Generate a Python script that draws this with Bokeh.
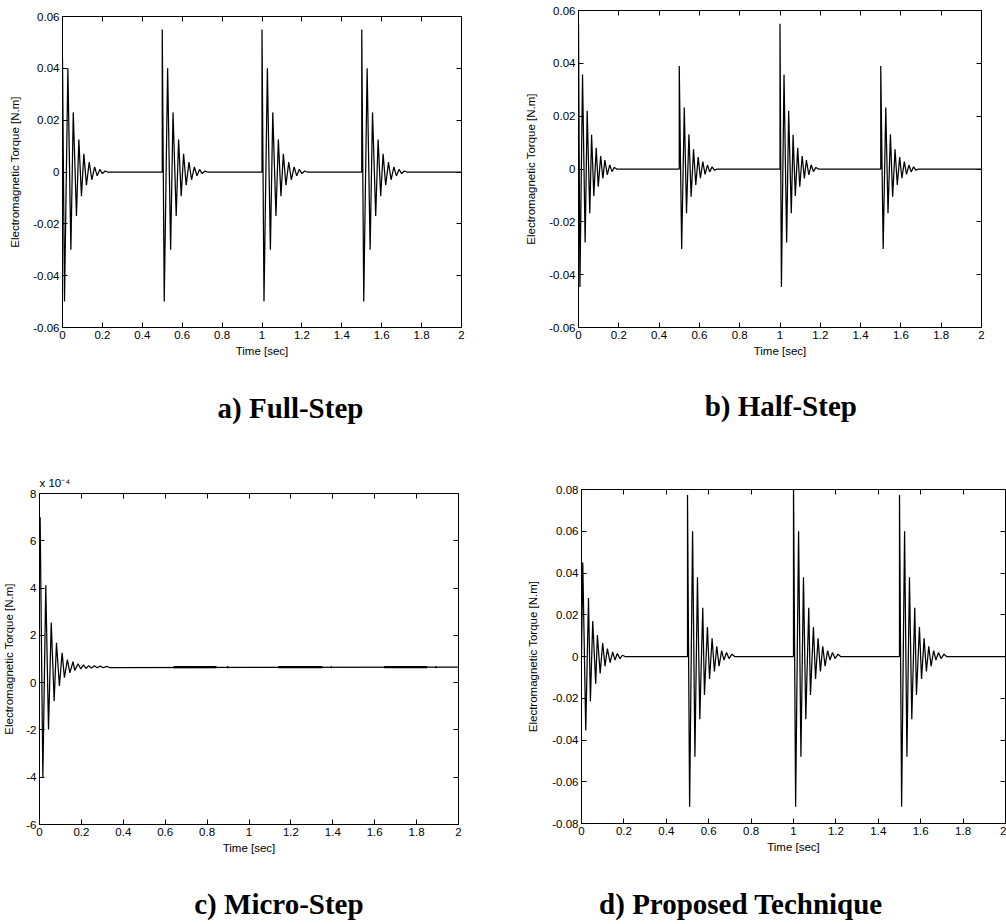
from bokeh.plotting import figure
from bokeh.models import (FixedTicker, CustomJSTickFormatter, LinearAxis, Range1d)
from bokeh.layouts import column, row
from bokeh.embed import file_html
from bokeh.resources import INLINE
from bokeh.core.properties import value

# ---------------- data ----------------
x_ticks = [0, 0.2, 0.4, 0.6, 0.8, 1.0, 1.2, 1.4, 1.6, 1.8, 2.0]
x_tick_labels = ["0", "0.2", "0.4", "0.6", "0.8", "1", "1.2", "1.4", "1.6", "1.8", "2"]
y_ticks_ab = [-0.06, -0.04, -0.02, 0, 0.02, 0.04, 0.06]
y_tick_labels_ab = ["-0.06", "-0.04", "-0.02", "0", "0.02", "0.04", "0.06"]
y_ticks_c = [-6, -4, -2, 0, 2, 4, 6, 8]
y_tick_labels_c = ["-6", "-4", "-2", "0", "2", "4", "6", "8"]
y_ticks_d = [-0.08, -0.06, -0.04, -0.02, 0, 0.02, 0.04, 0.06, 0.08]
y_tick_labels_d = ["-0.08", "-0.06", "-0.04", "-0.02", "0", "0.02", "0.04", "0.06", "0.08"]

captions = ["a) Full-Step", "b) Half-Step", "c) Micro-Step", "d) Proposed Technique"]
c_scale_note = "x 10\u207b\u2074"

# a) Full-Step : four bursts
a_start = [0.0, 0.5, 1.0, 1.5]
a_spike = [0.044, 0.055, 0.055, 0.055]
a_spike_at = [0.0, 0.0, 0.0, 0.0]
a_kind = ["A", "A", "A", "A"]
a_offsets_A = [0.010, 0.027, 0.042, 0.054, 0.070, 0.082, 0.095, 0.107, 0.120,
               0.134, 0.147, 0.161, 0.174, 0.187, 0.200, 0.214]
a_swing_A = [-0.050, 0.040, -0.030, 0.023, -0.017, 0.0125, -0.0093, 0.007, -0.0051,
             0.0038, -0.003, 0.002, -0.0015, 0.001, -0.0006, 0.0004]

# b) Half-Step
b_start = [0.0, 0.5, 1.0, 1.5]
b_spike = [0.055, 0.039, 0.055, 0.039]
b_spike_at = [0.0, 0.0, 0.0, 0.0]
b_kind = ["A", "B", "A", "B"]
b_offsets_A = [0.007, 0.020, 0.033, 0.043, 0.056, 0.065, 0.076, 0.088, 0.098,
               0.110, 0.121, 0.131, 0.143, 0.155, 0.166, 0.178]
b_swing_A = [-0.0447, 0.0358, -0.0278, 0.022, -0.0167, 0.013, -0.0102, 0.008, -0.0067,
             0.0049, -0.0036, 0.0034, -0.0022, 0.0016, -0.001, 0.0006]
b_offsets_B = [0.012, 0.025, 0.036, 0.048, 0.059, 0.071, 0.082, 0.094, 0.105,
               0.117, 0.128, 0.140, 0.151, 0.163, 0.175]
b_swing_B = [-0.0303, 0.0233, -0.0167, 0.0131, -0.0105, 0.0075, -0.006, 0.0045, -0.0035,
             0.0028, -0.002, 0.0015, -0.0011, 0.0008, -0.0005]

# c) Micro-Step (values in units of 1e-4)
c_level = 0.66
c_offsets = [0.0, 0.003, 0.016, 0.030, 0.043, 0.056, 0.070, 0.081, 0.095, 0.108,
             0.119, 0.133, 0.145, 0.160, 0.168, 0.184, 0.197, 0.210, 0.222, 0.235,
             0.248, 0.262, 0.275, 0.290, 0.305, 0.320, 0.335]
c_values = [6.0, 7.0, -4.0, 4.12, -1.98, 2.54, -0.78, 1.69, -0.14, 1.26,
            0.21, 0.97, 0.41, 0.89, 0.52, 0.80, 0.58, 0.75, 0.60, 0.72,
            0.62, 0.71, 0.63, 0.70, 0.63, 0.69, 0.64]
c_ripple_start = [0.64, 1.14, 1.645]
c_ripple_end = [0.845, 1.35, 1.85]
c_blip = [0.895, 1.39, 1.89]

# d) Proposed Technique
d_start = [0.0, 0.5, 1.0, 1.5]
d_spike = [0.045, 0.0774, 0.085, 0.0774]
d_spike_at = [0.006, 0.0, 0.0, 0.0]
d_kind = ["A", "B", "B", "B"]
d_offsets_A = [0.020, 0.033, 0.042, 0.053, 0.067, 0.075, 0.088, 0.100, 0.111,
               0.122, 0.135, 0.147, 0.158, 0.169, 0.182, 0.193]
d_swing_A = [-0.0355, 0.028, -0.0215, 0.017, -0.013, 0.0103, -0.0081, 0.0064, -0.0046,
             0.0038, -0.0029, 0.0022, -0.0017, 0.0014, -0.001, 0.0006]
d_offsets_B = [0.010, 0.024, 0.035, 0.047, 0.058, 0.072, 0.080, 0.094, 0.104,
               0.116, 0.127, 0.138, 0.149, 0.161, 0.172, 0.184, 0.196, 0.210]
d_swing_B = [-0.072, 0.060, -0.048, 0.038, -0.030, 0.0234, -0.0184, 0.0141, -0.0108,
             0.0087, -0.0072, 0.0049, -0.0046, 0.0028, -0.0017, 0.0019, -0.001, 0.0011]

T_END = 2.0


def build_trace(starts, spikes, spike_at, kinds, patterns, level=0.0):
    xs, ys = [], []
    for i, t0 in enumerate(starts):
        offs, sw = patterns[kinds[i]]
        if i > 0 or spike_at[i] > 0:
            xs.append(t0); ys.append(level)
        xs.append(t0 + spike_at[i]); ys.append(level + spikes[i])
        for o, v in zip(offs, sw):
            xs.append(t0 + o); ys.append(level + v)
        xs.append(t0 + offs[-1] + 0.012); ys.append(level)
    xs.append(T_END); ys.append(level)
    return xs, ys


FONT = "Liberation Sans"
TICK_FS = "11.5px"


def tick_formatter(tv, lbl):
    return CustomJSTickFormatter(args=dict(tv=tv, lbl=lbl), code="""
        const i = tv.findIndex(t => Math.abs(t - tick) < 1e-9);
        return i >= 0 ? lbl[i] : '';
    """)


BLANK = CustomJSTickFormatter(code="return '';")


def style_axis(ax):
    ax.major_tick_in = 5
    ax.major_tick_out = 0
    ax.minor_tick_line_color = None
    ax.axis_line_color = "black"
    ax.major_tick_line_color = "black"
    ax.major_label_text_color = "black"
    ax.axis_label_text_color = "black"
    ax.major_label_text_font = FONT
    ax.axis_label_text_font = FONT
    ax.axis_label_text_font_style = "normal"
    ax.axis_label_text_font_size = TICK_FS
    ax.major_label_text_font_size = TICK_FS


def make_panel(width, height, left, right, top, bottom, yr, yticks, ylabels, ystand):
    p = figure(width=width, height=height, x_range=Range1d(0, 2), y_range=Range1d(*yr),
               output_backend="svg", toolbar_location=None,
               min_border_left=left, min_border_right=right,
               min_border_top=top, min_border_bottom=bottom,
               x_axis_label="Time [sec]", y_axis_label="Electromagnetic Torque [N.m]")
    p.grid.visible = False
    p.outline_line_color = "black"
    p.outline_line_width = 1
    p.background_fill_color = "white"
    p.border_fill_color = "white"

    bx = p.below[0]
    ly = p.left[0]
    bx.ticker = FixedTicker(ticks=x_ticks)
    ly.ticker = FixedTicker(ticks=yticks)
    bx.formatter = tick_formatter(x_ticks, x_tick_labels)
    ly.formatter = tick_formatter(yticks, ylabels)
    style_axis(bx)
    style_axis(ly)
    bx.major_label_standoff = 3
    bx.axis_label_standoff = 3
    ly.major_label_standoff = 3
    ly.axis_label_standoff = ystand

    top_ax = LinearAxis(ticker=FixedTicker(ticks=x_ticks), formatter=BLANK)
    right_ax = LinearAxis(ticker=FixedTicker(ticks=yticks), formatter=BLANK)
    for ax in (top_ax, right_ax):
        style_axis(ax)
        ax.major_label_standoff = 0
    p.add_layout(top_ax, "above")
    p.add_layout(right_ax, "right")
    return p


def caption_fig(width, height, text, cx, baseline):
    f = figure(width=width, height=height, x_range=Range1d(0, width),
               y_range=Range1d(0, height), x_axis_type=None, y_axis_type=None,
               output_backend="svg", toolbar_location=None, min_border=0)
    f.outline_line_color = None
    f.text(x=[cx], y=[baseline], text=[text], text_align="center",
           text_baseline="alphabetic", text_font=value("Liberation Serif"),
           text_font_style="bold", text_font_size=value("29px"), text_color="black")
    return f


LW = 1.25

# ---- panel a ----
yr_ab = (-0.06, 0.06)
pa = make_panel(490, 377, 62, 29, 16, 50, yr_ab, y_ticks_ab, y_tick_labels_ab, 9)
ax_, ay_ = build_trace(a_start, a_spike, a_spike_at, a_kind, {"A": (a_offsets_A, a_swing_A)})
pa.line(ax_, ay_, line_color="black", line_width=LW)
ca = caption_fig(490, 63, captions[0], 280, 33)

# ---- panel b ----
pb = make_panel(516, 377, 88, 25, 10, 50, yr_ab, y_ticks_ab, y_tick_labels_ab, 9)
bx_, by_ = build_trace(b_start, b_spike, b_spike_at, b_kind,
                       {"A": (b_offsets_A, b_swing_A), "B": (b_offsets_B, b_swing_B)})
pb.line(bx_, by_, line_color="black", line_width=LW)
cb = caption_fig(516, 63, captions[1], 259, 35)

# ---- panel c ----
yr_c = (-6, 8)
pc = make_panel(490, 434, 39, 32, 53, 50, yr_c, y_ticks_c, y_tick_labels_c, 8)
pc.title.text = c_scale_note
pc.title.align = "left"
pc.title.text_font = FONT
pc.title.text_font_style = "normal"
pc.title.text_font_size = TICK_FS
pc.title.text_color = "black"
cx_ = list(c_offsets) + [T_END]
cy_ = list(c_values) + [c_level]
pc.line(cx_, cy_, line_color="black", line_width=LW)
pc.segment(x0=c_ripple_start, y0=[c_level] * len(c_ripple_start),
           x1=c_ripple_end, y1=[c_level] * len(c_ripple_end),
           line_color="black", line_width=2.2)
pc.segment(x0=c_blip, y0=[c_level] * len(c_blip),
           x1=[b + 0.006 for b in c_blip], y1=[c_level] * len(c_blip),
           line_color="black", line_width=2.2)
cc = caption_fig(490, 50, captions[2], 280, 21)

# ---- panel d ----
yr_d = (-0.08, 0.08)
pd_ = make_panel(516, 434, 91, 1, 49, 51, yr_d, y_ticks_d, y_tick_labels_d, 10)
dx_, dy_ = build_trace(d_start, d_spike, d_spike_at, d_kind,
                       {"A": (d_offsets_A, d_swing_A), "B": (d_offsets_B, d_swing_B)})
pd_.line(dx_, dy_, line_color="black", line_width=LW)
cd = caption_fig(516, 50, captions[3], 194, 21)

layout = column(row(column(pa, ca), column(pb, cb)),
                row(column(pc, cc), column(pd_, cd)))
open("out.html", "w").write(file_html(layout, INLINE))
